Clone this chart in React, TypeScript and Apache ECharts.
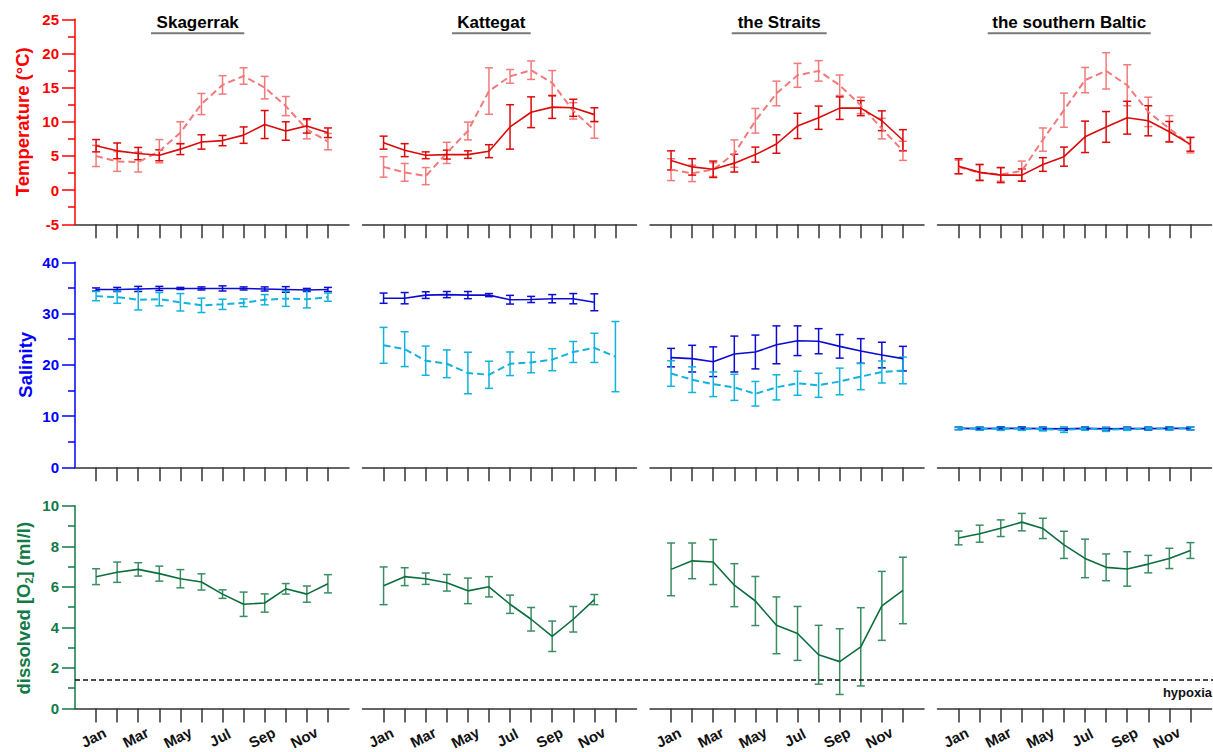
import React, { useEffect, useRef } from "react";
import * as echarts from "echarts";

// ---- categories / ticks ----
const months = ["Jan", "Feb", "Mar", "Apr", "May", "Jun", "Jul", "Aug", "Sep", "Oct", "Nov", "Dec"];
const monthTicks = [1, 2, 3, 4, 5, 6, 7, 8, 9, 10, 11, 12];
const labelledMonths = [1, 3, 5, 7, 9, 11];
const regions = ["Skagerrak", "Kattegat", "the Straits", "the southern Baltic"];

// ---- temperature (°C): surface (dashed) and bottom (solid) ----
const skagTempSurf = [5.0, 4.2, 4.1, 5.7, 8.4, 12.6, 15.4, 16.7, 15.0, 12.3, 8.9, 7.1];
const skagTempSurfErr = [1.55, 1.45, 1.45, 1.7, 1.6, 1.55, 1.35, 1.2, 1.65, 1.4, 1.4, 1.2];
const skagTempBot = [6.5, 5.75, 5.35, 5.1, 6.0, 7.05, 7.25, 8.05, 9.6, 8.65, 9.4, 8.4];
const skagTempBotErr = [0.9, 1.15, 0.9, 0.8, 0.8, 1.05, 0.75, 1.2, 2.05, 1.35, 1.05, 0.7];

const katTempSurf = [3.4, 2.6, 2.05, 5.45, 8.65, 14.5, 16.65, 17.55, 15.7, 11.6, 8.8];
const katTempSurfErr = [1.5, 1.3, 1.25, 1.55, 1.3, 3.4, 1.0, 1.35, 1.8, 1.2, 1.2];
const katTempBot = [6.95, 5.85, 5.1, 5.2, 5.2, 5.7, 9.25, 11.4, 12.15, 12.05, 11.05];
const katTempBotErr = [0.95, 0.95, 0.5, 0.65, 0.55, 0.95, 3.25, 2.25, 1.65, 1.25, 1.0];

const strTempSurf = [3.0, 2.45, 3.0, 5.35, 10.15, 14.15, 16.8, 17.45, 15.35, 12.4, 9.0, 5.75];
const strTempSurfErr = [1.6, 1.2, 1.0, 2.0, 1.8, 1.8, 1.75, 1.5, 1.5, 1.2, 1.5, 1.4];
const strTempBot = [4.35, 3.4, 3.05, 3.95, 5.2, 6.75, 9.4, 10.6, 12.0, 12.0, 10.15, 7.3];
const strTempBotErr = [1.4, 1.2, 1.2, 1.3, 1.1, 1.35, 1.85, 1.7, 1.65, 1.1, 1.45, 1.55];

const balTempSurf = [3.4, 2.55, 2.3, 2.8, 7.4, 11.7, 16.1, 17.45, 15.35, 11.45, 9.0, 6.6];
const balTempSurfErr = [1.0, 1.2, 1.0, 1.45, 1.7, 2.5, 1.85, 2.65, 3.0, 2.15, 1.9, 1.15];
const balTempBot = [3.5, 2.6, 2.2, 2.2, 3.75, 4.9, 7.8, 9.25, 10.6, 10.15, 8.55, 6.7];
const balTempBotErr = [1.1, 1.15, 1.1, 0.9, 1.0, 1.4, 2.3, 2.25, 2.4, 2.2, 1.5, 1.0];

// ---- salinity: surface (dashed) and bottom (solid) ----
const skagSalSurf = [33.4, 33.2, 32.7, 32.8, 32.2, 31.6, 31.8, 32.1, 32.7, 32.9, 32.8, 33.2];
const skagSalSurfErr = [0.9, 1.2, 2.0, 1.3, 1.7, 1.4, 1.0, 0.75, 1.0, 1.5, 1.7, 0.8];
const skagSalBot = [34.7, 34.7, 34.8, 34.9, 34.9, 34.9, 34.9, 34.9, 34.8, 34.7, 34.6, 34.7];
const skagSalBotErr = [0.3, 0.4, 0.5, 0.4, 0.2, 0.3, 0.5, 0.3, 0.4, 0.55, 0.3, 0.4];

const katSalSurf = [23.8, 23.05, 20.8, 20.2, 18.4, 18.05, 20.2, 20.45, 21.0, 22.5, 23.3, 21.6];
const katSalSurfErr = [3.5, 3.4, 2.85, 2.7, 4.05, 2.65, 2.3, 2.0, 2.15, 2.05, 2.85, 6.85];
const katSalBot = [33.0, 33.0, 33.6, 33.7, 33.6, 33.6, 32.7, 32.75, 32.9, 32.9, 32.2];
const katSalBotErr = [1.0, 1.1, 0.65, 0.6, 0.7, 0.3, 0.85, 0.6, 0.8, 1.0, 1.65];

const strSalSurf = [18.3, 17.1, 16.2, 15.6, 14.35, 15.6, 16.4, 16.0, 16.75, 17.7, 18.6, 18.9];
const strSalSurfErr = [2.5, 2.5, 2.4, 2.55, 2.4, 2.45, 2.35, 2.35, 2.6, 2.55, 2.15, 2.6];
const strSalBot = [21.4, 21.2, 20.6, 22.1, 22.5, 23.9, 24.7, 24.6, 23.6, 22.7, 21.9, 21.2];
const strSalBotErr = [1.8, 2.6, 2.9, 3.5, 3.3, 3.7, 2.9, 2.45, 2.3, 2.4, 2.5, 2.4];

const balSalSurf = [7.6, 7.55, 7.5, 7.5, 7.45, 7.3, 7.55, 7.35, 7.5, 7.55, 7.55, 7.6];
const balSalSurfErr = [0.25, 0.3, 0.3, 0.3, 0.35, 0.5, 0.3, 0.35, 0.3, 0.25, 0.3, 0.3];
const balSalBot = [7.6, 7.55, 7.6, 7.6, 7.55, 7.5, 7.6, 7.5, 7.55, 7.55, 7.6, 7.6];
const balSalBotErr = [0.25, 0.3, 0.3, 0.3, 0.3, 0.3, 0.3, 0.3, 0.3, 0.3, 0.3, 0.3];

// ---- dissolved oxygen (ml/l) ----
const skagO2 = [6.5, 6.72, 6.86, 6.65, 6.4, 6.24, 5.64, 5.14, 5.2, 5.9, 5.64, 6.15];
const skagO2Err = [0.39, 0.5, 0.33, 0.37, 0.45, 0.4, 0.21, 0.6, 0.45, 0.26, 0.4, 0.45];
const katO2 = [6.05, 6.5, 6.4, 6.2, 5.8, 6.0, 5.14, 4.4, 3.56, 4.4, 5.37];
const katO2Err = [0.93, 0.44, 0.28, 0.41, 0.63, 0.5, 0.45, 0.58, 0.75, 0.63, 0.25];
const strO2 = [6.86, 7.28, 7.22, 6.08, 5.3, 4.1, 3.7, 2.65, 2.31, 3.04, 5.06, 5.82];
const strO2Err = [1.3, 0.88, 1.11, 1.06, 1.21, 1.4, 1.33, 1.45, 1.62, 1.93, 1.7, 1.64];
const balO2 = [8.41, 8.62, 8.89, 9.19, 8.88, 8.07, 7.4, 6.96, 6.88, 7.12, 7.4, 7.79];
const balO2Err = [0.34, 0.42, 0.41, 0.43, 0.5, 0.67, 0.95, 0.66, 0.85, 0.43, 0.5, 0.39];

const hypoxiaLevel = 1.4;

// ---- y-axis scales per row ----
const tempTicks = { min: -5, max: 25, interval: 5 };
const salTicks = { min: 0, max: 40, interval: 10 };
const o2Ticks = { min: 0, max: 10, interval: 2 };

// ---- layout & style ----
const FONT = '"Liberation Sans", Arial, Helvetica, sans-serif';
const W = 1213;
const H = 752;
const colLeft = [75, 362.5, 650, 937.5];
const colWidth = 274;
const rowTop = [19.3, 262.3, 505.7];
const rowHeight = 205;

const TEMP_AXIS = "#ff0000";
const TEMP_BOT = "#dc0a0a";
const TEMP_SURF = "#f37a7a";
const SAL_AXIS = "#0000ff";
const SAL_BOT = "#0c0cd0";
const SAL_SURF = "#12b2de";
const O2_AXIS = "#127a46";
const O2_LINE = "#0d6e3d";
const O2_ERR = "#3a8d62";

const titleCenters = [197.7, 491.3, 779.2, 1069.2];
const underlines = [
  [151, 244.3],
  [452, 530.7],
  [731.7, 826.7],
  [987.7, 1150.7],
];

function errRender(color: string) {
  return (params: any, api: any) => {
    const x = api.value(0);
    const lo = api.coord([x, api.value(1)]);
    const hi = api.coord([x, api.value(2)]);
    const cap = 4;
    const style = { stroke: color, lineWidth: 1.5, fill: "none" };
    return {
      type: "group",
      children: [
        { type: "line", shape: { x1: lo[0], y1: lo[1], x2: hi[0], y2: hi[1] }, style },
        { type: "line", shape: { x1: lo[0] - cap, y1: lo[1], x2: lo[0] + cap, y2: lo[1] }, style },
        { type: "line", shape: { x1: hi[0] - cap, y1: hi[1], x2: hi[0] + cap, y2: hi[1] }, style },
      ],
    };
  };
}

function buildOption() {
  const grid: any[] = [];
  const xAxis: any[] = [];
  const yAxis: any[] = [];
  const series: any[] = [];

  const rowScales = [tempTicks, salTicks, o2Ticks];
  const rowColors = [TEMP_AXIS, SAL_AXIS, O2_AXIS];

  for (let r = 0; r < 3; r++) {
    for (let c = 0; c < 4; c++) {
      const idx = r * 4 + c;
      grid.push({ left: colLeft[c], top: rowTop[r], width: colWidth, height: rowHeight, containLabel: false });
      xAxis.push({
        gridIndex: idx,
        type: "value",
        min: 0,
        max: 13,
        interval: 1,
        splitLine: { show: false },
        axisLine: { show: true, onZero: false, lineStyle: { color: "#333", width: 1.5 } },
        axisTick: {
          show: true,
          inside: false,
          length: 14,
          customValues: monthTicks,
          lineStyle: { color: "#333", width: 1.5 },
        },
        axisLabel: {
          show: r === 2,
          customValues: labelledMonths,
          formatter: (v: number) => months[v - 1] || "",
          rotate: 27,
          align: "center",
          verticalAlign: "middle",
          margin: 27.5,
          padding: [0, 6, 0, 0],
          fontFamily: FONT,
          fontSize: 15,
          fontWeight: "bold",
          color: "#111",
        },
      });
      const sc = rowScales[r];
      const col = rowColors[r];
      yAxis.push({
        gridIndex: idx,
        type: "value",
        min: sc.min,
        max: sc.max,
        interval: sc.interval,
        show: c === 0,
        splitLine: { show: false },
        axisLine: { show: true, lineStyle: { color: col, width: 1.5 } },
        axisTick: { show: true, inside: false, length: 13, lineStyle: { color: col, width: 1.5 } },
        minorTick: { show: true, splitNumber: 2, length: 7, lineStyle: { color: col, width: 1.5 } },
        minorSplitLine: { show: false },
        axisLabel: {
          margin: 16,
          fontFamily: FONT,
          fontSize: 15,
          fontWeight: "bold",
          color: col,
        },
      });
    }
  }

  const addLine = (idx: number, values: number[], color: string, dashed: boolean, width: number) => {
    series.push({
      type: "line",
      xAxisIndex: idx,
      yAxisIndex: idx,
      data: values.map((v, i) => [i + 1, v]),
      symbol: "none",
      showSymbol: false,
      silent: true,
      lineStyle: { color, width, type: dashed ? [7, 4] : "solid" },
      z: 3,
    });
  };
  const addErr = (idx: number, values: number[], errs: number[], color: string) => {
    series.push({
      type: "custom",
      xAxisIndex: idx,
      yAxisIndex: idx,
      data: values.map((v, i) => [i + 1, v - errs[i], v + errs[i]]),
      encode: { x: 0, y: [1, 2] },
      renderItem: errRender(color),
      silent: true,
      clip: false,
      z: 2,
    });
  };

  const temps = [
    [skagTempSurf, skagTempSurfErr, skagTempBot, skagTempBotErr],
    [katTempSurf, katTempSurfErr, katTempBot, katTempBotErr],
    [strTempSurf, strTempSurfErr, strTempBot, strTempBotErr],
    [balTempSurf, balTempSurfErr, balTempBot, balTempBotErr],
  ];
  const sals = [
    [skagSalSurf, skagSalSurfErr, skagSalBot, skagSalBotErr],
    [katSalSurf, katSalSurfErr, katSalBot, katSalBotErr],
    [strSalSurf, strSalSurfErr, strSalBot, strSalBotErr],
    [balSalSurf, balSalSurfErr, balSalBot, balSalBotErr],
  ];
  const oxy = [
    [skagO2, skagO2Err],
    [katO2, katO2Err],
    [strO2, strO2Err],
    [balO2, balO2Err],
  ];

  for (let c = 0; c < 4; c++) {
    const [ts, tse, tb, tbe] = temps[c];
    addErr(c, ts, tse, TEMP_SURF);
    addLine(c, ts, TEMP_SURF, true, 2);
    addErr(c, tb, tbe, TEMP_BOT);
    addLine(c, tb, TEMP_BOT, false, 1.6);

    const [ss, sse, sb, sbe] = sals[c];
    addErr(4 + c, sb, sbe, SAL_BOT);
    addLine(4 + c, sb, SAL_BOT, false, 1.6);
    addErr(4 + c, ss, sse, SAL_SURF);
    addLine(4 + c, ss, SAL_SURF, true, 2);

    const [o, oe] = oxy[c];
    addErr(8 + c, o, oe, O2_ERR);
    addLine(8 + c, o, O2_LINE, false, 1.6);
  }

  return { animation: false, backgroundColor: "#fff", grid, xAxis, yAxis, series };
}

function staticGraphics(hypoY: number) {
  const els: any[] = [];
  regions.forEach((name, i) => {
    els.push({
      type: "text",
      id: "title" + i,
      x: titleCenters[i],
      y: 22,
      style: {
        text: name,
        fill: "#000",
        fontFamily: FONT,
        fontSize: 17,
        fontWeight: "bold",
        align: "center",
        textAlign: "center",
        verticalAlign: "middle",
        textVerticalAlign: "middle",
      },
    });
    els.push({
      type: "line",
      id: "ul" + i,
      shape: { x1: underlines[i][0], y1: 33.3, x2: underlines[i][1], y2: 33.3 },
      style: { stroke: "#7a7a7a", lineWidth: 2 },
    });
  });

  const nameStyle = (color: string) => ({
    fill: color,
    fontFamily: FONT,
    fontSize: 18.5,
    fontWeight: "bold",
    align: "center",
    textAlign: "center",
    verticalAlign: "middle",
    textVerticalAlign: "middle",
  });
  els.push({
    type: "text",
    id: "nameT",
    x: 22,
    y: rowTop[0] + rowHeight / 2,
    rotation: Math.PI / 2,
    style: { ...nameStyle(TEMP_AXIS), text: "Temperature (°C)" },
  });
  els.push({
    type: "text",
    id: "nameS",
    x: 25,
    y: rowTop[1] + rowHeight / 2,
    rotation: Math.PI / 2,
    style: { ...nameStyle(SAL_AXIS), text: "Salinity" },
  });
  els.push({
    type: "text",
    id: "nameO",
    x: 23.5,
    y: rowTop[2] + rowHeight / 2,
    rotation: Math.PI / 2,
    style: {
      ...nameStyle(O2_AXIS),
      text: "{a|dissolved [O}{s|2}{a|] (ml/l)}",
      rich: {
        a: { fill: O2_AXIS, fontFamily: FONT, fontSize: 18.5, fontWeight: "bold", lineHeight: 22 },
        s: {
          fill: O2_AXIS,
          fontFamily: FONT,
          fontSize: 11,
          fontWeight: "bold",
          lineHeight: 22,
          verticalAlign: "bottom",
          padding: [9, 0, 0, 0],
        },
      },
    },
  });

  if (hypoY !== null && !isNaN(hypoY)) {
    els.push({
      type: "line",
      id: "hypo",
      shape: { x1: colLeft[0], y1: hypoY, x2: W, y2: hypoY },
      style: { stroke: "#111", lineWidth: 1.5, lineDash: [5, 3] },
      z: 10,
    });
    els.push({
      type: "text",
      id: "hypoTxt",
      x: W - 1,
      y: hypoY + 12,
      style: {
        text: "hypoxia",
        fill: "#111",
        fontFamily: FONT,
        fontSize: 13,
        fontWeight: "bold",
        align: "right",
        textAlign: "right",
        verticalAlign: "middle",
        textVerticalAlign: "middle",
      },
    });
  }
  return els;
}

export default function App() {
  const ref = useRef<HTMLDivElement>(null);
  useEffect(() => {
    if (!ref.current) return;
    const chart = echarts.init(ref.current, null, { renderer: "svg", width: W, height: H });
    chart.setOption(buildOption());
    const p = chart.convertToPixel({ xAxisIndex: 8, yAxisIndex: 8 } as any, [0, hypoxiaLevel]) as any;
    const hy = Array.isArray(p) ? p[1] : NaN;
    chart.setOption({ graphic: [{ elements: staticGraphics(hy) }] });
    return () => chart.dispose();
  }, []);
  return (
    <div
      ref={ref}
      style={{ position: "absolute", left: 0, top: 0, width: W, height: H, background: "#fff" }}
    />
  );
}
